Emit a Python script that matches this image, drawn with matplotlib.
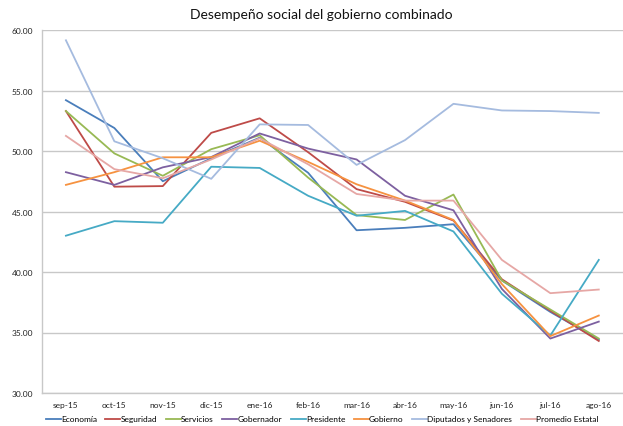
import matplotlib
matplotlib.use("Agg")
import matplotlib.pyplot as plt

months = ["sep-15", "oct-15", "nov-15", "dic-15", "ene-16", "feb-16",
          "mar-16", "abr-16", "may-16", "jun-16", "jul-16", "ago-16"]

economia = [54.2, 51.9, 47.5, 49.4, 51.1, 48.2, 43.45, 43.65, 43.95, 39.3, 36.7, 34.4]
seguridad = [53.3, 47.05, 47.1, 51.5, 52.7, 49.9, 46.85, 45.8, 44.25, 39.4, 36.8, 34.3]
servicios = [53.3, 49.8, 47.95, 50.15, 51.3, 47.8, 44.7, 44.3, 46.4, 39.3, 36.9, 34.5]
gobernador = [48.25, 47.2, 48.65, 49.5, 51.45, 50.2, 49.3, 46.3, 45.1, 38.6, 34.5, 35.9]
presidente = [43.0, 44.2, 44.07, 48.7, 48.6, 46.3, 44.65, 45.05, 43.35, 38.2, 34.75, 41.0]
gobierno = [47.2, 48.25, 49.48, 49.48, 50.85, 49.1, 47.25, 45.9, 44.3, 39.0, 34.7, 36.4]
diputados = [59.15, 50.8, 49.4, 47.7, 52.2, 52.15, 48.85, 50.9, 53.9, 53.35, 53.3, 53.15]
promedio = [51.25, 48.5, 47.75, 49.3, 51.05, 48.9, 46.45, 45.9, 45.9, 41.0, 38.25, 38.55]

series = [
    ("Economía", economia, "#4a7ebb"),
    ("Seguridad", seguridad, "#be4b48"),
    ("Servicios", servicios, "#98b954"),
    ("Gobernador", gobernador, "#7d60a0"),
    ("Presidente", presidente, "#46aac5"),
    ("Gobierno", gobierno, "#f69240"),
    ("Diputados y Senadores", diputados, "#a5bbdf"),
    ("Promedio Estatal", promedio, "#e6a7a5"),
]

plt.rcParams['font.family'] = ['Lato', 'DejaVu Sans']

fig = plt.figure(figsize=(6.23, 4.27), dpi=100)
ax = fig.add_axes([41.7 / 623, 33 / 427, (623 - 41.7) / 623, 363 / 427])

x = list(range(len(months)))
for name, vals, col in series:
    ax.plot(x, vals, color=col, lw=1.3, label=name, solid_joinstyle='round')

ax.set_xlim(-0.5, len(months) - 0.5)
ax.set_ylim(30, 60)
ax.set_yticks([30, 35, 40, 45, 50, 55, 60])
ax.set_yticklabels([f"{v:.2f}" for v in [30, 35, 40, 45, 50, 55, 60]])
ax.set_xticks(x)
ax.set_xticklabels(months)
ax.tick_params(axis='both', length=0, labelsize=6, colors="#222222")
ax.tick_params(axis='x', pad=6)
ax.tick_params(axis='y', pad=6)
ax.grid(axis='y', color="#c8c8c8", lw=1)
ax.set_axisbelow(True)
for s in ["top", "right"]:
    ax.spines[s].set_visible(False)
ax.spines["left"].set_color("#c8c8c8")
ax.spines["bottom"].set_color("#c8c8c8")
ax.spines["left"].set_linewidth(1)
ax.spines["bottom"].set_linewidth(1)

fig.text(321 / 623, 1 - 15 / 427, "Desempeño social del gobierno combinado",
         ha="center", va="center", fontsize=10, color="#111111")

fig.legend(loc="center", bbox_to_anchor=(322 / 623, 1 - 420 / 427), ncol=8,
           frameon=False, fontsize=6, handlelength=1.8, handletextpad=0.05,
           columnspacing=1.0, borderaxespad=0, borderpad=0)

fig.savefig("out.png", dpi=100)
